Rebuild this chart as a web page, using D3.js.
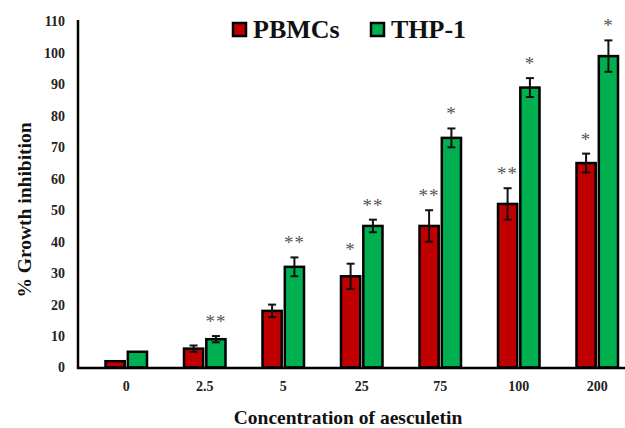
<!DOCTYPE html>
<html><head><meta charset="utf-8">
<script src="https://cdn.jsdelivr.net/npm/d3@7"></script>
<style>body{margin:0;background:#fff}svg{display:block}</style>
</head><body>
<svg id="c" width="625" height="428"></svg>
<script>
const categories = ["0","2.5","5","25","75","100","200"];
const seriesNames = ["PBMCs","THP-1"];
const pbmcValues = [2, 6, 18, 29, 45, 52, 65];
const pbmcErrors = [0, 1, 2, 4, 5, 5, 3];
const pbmcMarks = ["", "", "", "*", "**", "**", "*"];
const thpValues = [5, 9, 32, 45, 73, 89, 99];
const thpErrors = [0, 1, 3, 2, 3, 3, 5];
const thpMarks = ["", "**", "**", "**", "*", "*", "*"];
const yTicks = [0,10,20,30,40,50,60,70,80,90,100,110];
const colors = ["#C00000", "#00B050"];

const svg = d3.select("#c");
const font = "'Liberation Serif','Times New Roman',serif";
const y = d3.scaleLinear().domain([0,110]).range([367.5, 21.5]);
const x = d3.scaleBand().domain(categories).range([87, 636.5]).padding(0);
const xs = d3.scaleBand().domain(seriesNames).range([18.5, 60]).paddingInner(0.14);

const data = [
  {name: seriesNames[0], values: pbmcValues, errs: pbmcErrors, marks: pbmcMarks, color: colors[0]},
  {name: seriesNames[1], values: thpValues, errs: thpErrors, marks: thpMarks, color: colors[1]}
];

// axes
const yAxis = d3.axisLeft(y).tickValues(yTicks).tickSize(0).tickPadding(13);
const gy = svg.append("g").attr("transform","translate(78,0)").call(yAxis);
gy.select(".domain").remove();
gy.selectAll("text").attr("font-family",font).attr("font-weight","bold").attr("font-size",14).attr("fill","#222");

const xAxis = d3.axisBottom(x).tickSize(0).tickPadding(13);
const gx = svg.append("g").attr("transform","translate(0,368)").call(xAxis);
gx.select(".domain").remove();
gx.selectAll("text").attr("font-family",font).attr("font-weight","bold").attr("font-size",14).attr("fill","#222");

// bars
data.forEach(s => {
  const g = svg.append("g");
  g.selectAll("rect").data(categories).join("rect")
    .attr("x", (c) => x(c) + xs(s.name))
    .attr("width", xs.bandwidth())
    .attr("y", (c,i) => y(s.values[i]))
    .attr("height", (c,i) => y(0) - y(s.values[i]))
    .attr("fill", s.color).attr("stroke","#000").attr("stroke-width",2.5);
  const eg = g.selectAll("g.err").data(categories).join("g").attr("class","err");
  eg.each(function(c,i){
    if(!s.errs[i]) return;
    const cx = x(c) + xs(s.name) + xs.bandwidth()/2;
    const e = d3.select(this);
    const y1 = y(s.values[i]+s.errs[i]), y2 = y(s.values[i]-s.errs[i]);
    e.append("line").attr("x1",cx).attr("x2",cx).attr("y1",y1).attr("y2",y2).attr("stroke","#111").attr("stroke-width",2);
    [y1,y2].forEach(yy => e.append("line").attr("x1",cx-4).attr("x2",cx+4).attr("y1",yy).attr("y2",yy).attr("stroke","#111").attr("stroke-width",2));
  });
  g.selectAll("text.mark").data(categories).join("text").attr("class","mark")
    .attr("x", (c) => x(c) + xs(s.name) + xs.bandwidth()/2)
    .attr("y", (c,i) => y(s.values[i]+s.errs[i]) - 8)
    .attr("text-anchor","middle").attr("font-family",font).attr("font-size",19)
    .attr("fill","#555").attr("letter-spacing",1)
    .text((c,i) => s.marks[i]);
});

// axis lines
svg.append("line").attr("x1",78).attr("x2",78).attr("y1",20).attr("y2",369).attr("stroke","#000").attr("stroke-width",2.5);
svg.append("line").attr("x1",77).attr("x2",625).attr("y1",368).attr("y2",368).attr("stroke","#000").attr("stroke-width",2.5);

// titles
svg.append("text").attr("x",348).attr("y",424).attr("text-anchor","middle")
  .attr("font-family",font).attr("font-weight","bold").attr("font-size",19.5).attr("fill","#111")
  .text("Concentration of aesculetin");
svg.append("text").attr("transform","translate(31,210) rotate(-90)").attr("text-anchor","middle")
  .attr("font-family",font).attr("font-weight","bold").attr("font-size",19.5).attr("fill","#111")
  .text("% Growth inhibition");

// legend
const legX = [232, 370];
data.forEach((s,i) => {
  svg.append("rect").attr("x",legX[i]+1).attr("y",23).attr("width",13).attr("height",13)
    .attr("fill",s.color).attr("stroke","#000").attr("stroke-width",2.5);
  svg.append("text").attr("x",legX[i]+21).attr("y",38)
    .attr("font-family",font).attr("font-weight","bold").attr("font-size",26).attr("fill","#111")
    .text(s.name);
});
</script>
</body></html>
